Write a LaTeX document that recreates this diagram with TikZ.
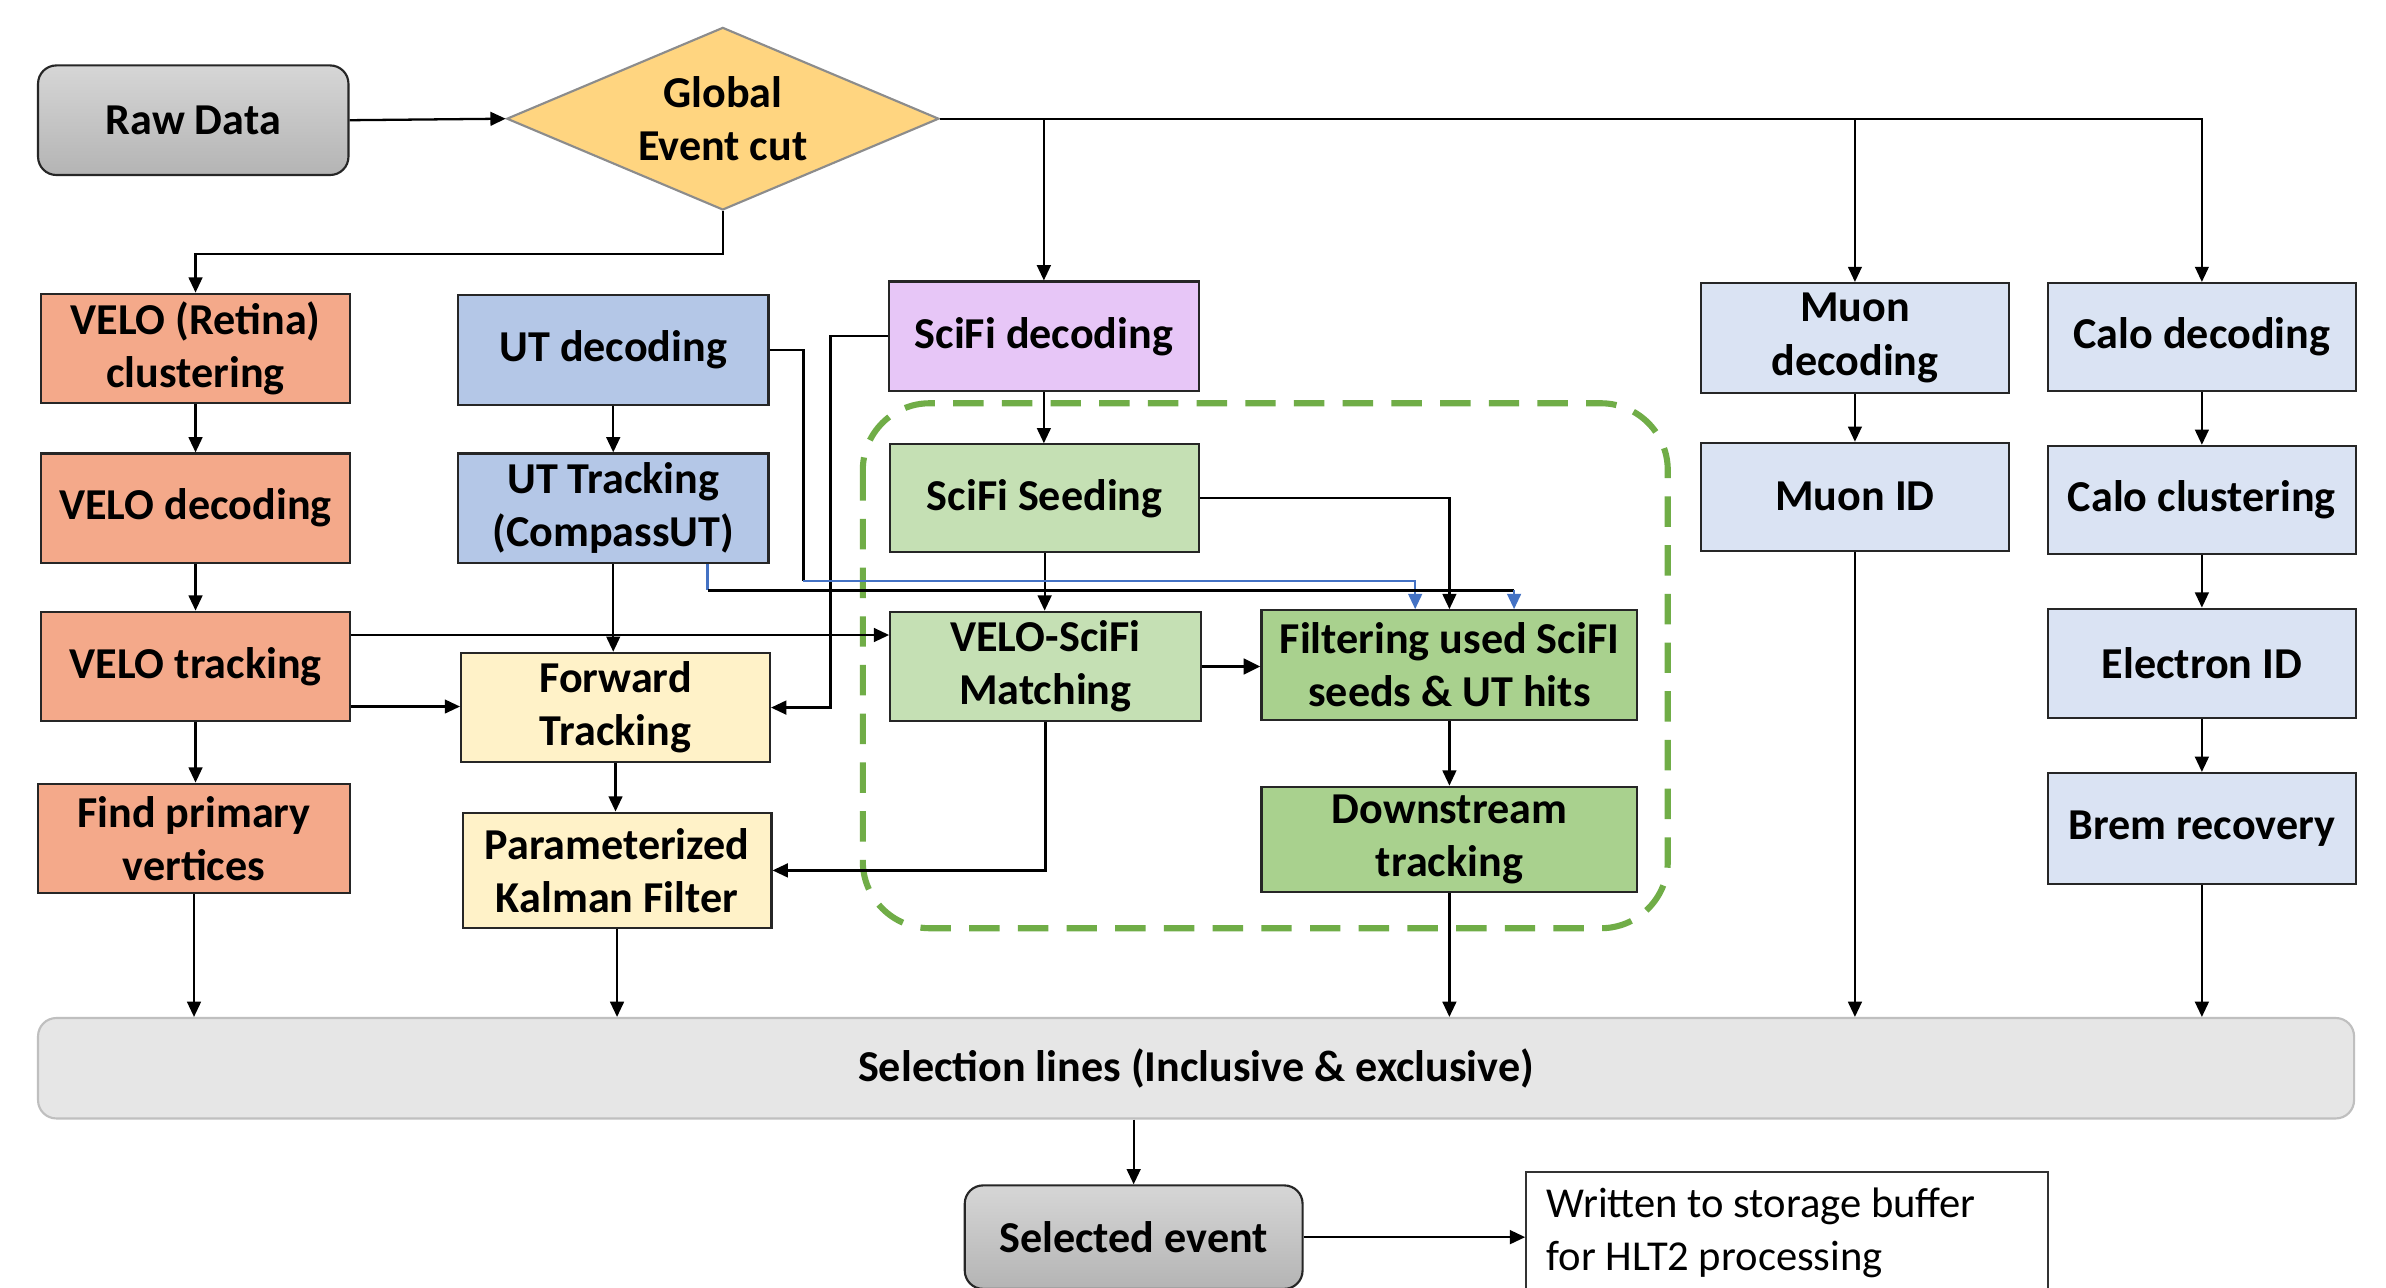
\documentclass[tikz,border=0pt]{standalone}
\usepackage{fontspec}
\setmainfont{Carlito}
\usetikzlibrary{shapes.geometric,arrows.meta,calc}
\definecolor{graytop}{HTML}{D6D6D6}
\definecolor{graybot}{HTML}{B4B4B4}
\definecolor{gold}{HTML}{FFD580}
\definecolor{velo}{HTML}{F4A98A}
\definecolor{utblue}{HTML}{B4C7E7}
\definecolor{fwdyel}{HTML}{FFF2C8}
\definecolor{scifiv}{HTML}{E7C6F7}
\definecolor{lgreen}{HTML}{C5E0B4}
\definecolor{dgreen}{HTML}{A9D18E}
\definecolor{pblue}{HTML}{DAE3F3}
\definecolor{selfill}{HTML}{E6E6E6}
\definecolor{selline}{HTML}{BFBFBF}
\definecolor{dashgreen}{HTML}{70AD47}
\definecolor{lineblue}{HTML}{4472C4}
\newcommand\mkbox[7]{\node[#6, minimum width={(#4-#2)*0.5pt}, minimum height={(#5-#3)*0.5pt}] (#1) at ({(#2+#4)/2},{(#3+#5)/2}) {#7};}
\begin{document}
\begin{tikzpicture}[x=0.5pt,y=-0.5pt,
  box/.style={draw=black!85, line width=0.7pt, inner sep=0pt, align=center,
    font=\bfseries\fontsize{14.5}{17.5}\selectfont},
  line/.style={draw=black, line width=0.75pt},
  arr/.style={line, -{Triangle[length=5pt,width=4.5pt]}},
  bline/.style={draw=lineblue, line width=0.75pt},
  barr/.style={bline, -{Triangle[length=5pt,width=4.5pt]}}]
\useasboundingbox (0,0) rectangle (1568,846);
\clip (0,0) rectangle (1568,846);
\fill[white] (0,0) rectangle (1568,846);

% dashed group
\draw[dashgreen, line width=2pt, dash pattern=on 10pt off 6pt, rounded corners=22pt]
  (567,265) rectangle (1096,610);

% nodes
\mkbox{raw}{25}{43}{229}{115}{box, rounded corners=6pt, top color=graytop, bottom color=graybot}{Raw Data}
\node[diamond, draw=black!45, fill=gold, line width=0.7pt, inner sep=0pt,
  minimum width=142pt, minimum height=60pt, aspect=2.37, align=center,
  font=\bfseries\fontsize{14.5}{17.5}\selectfont] (gec) at (475,78) {Global\\Event cut};

\mkbox{vr}{27}{193}{230}{265}{box, fill=velo}{VELO (Retina)\\clustering}
\mkbox{vd}{27}{298}{230}{370}{box, fill=velo}{VELO decoding}
\mkbox{vt}{27}{402}{230}{474}{box, fill=velo}{VELO tracking}
\mkbox{pv}{25}{515}{230}{587}{box, fill=velo}{Find primary\\vertices}

\mkbox{utd}{301}{194}{505}{266}{box, fill=utblue}{UT decoding}
\mkbox{utt}{301}{298}{505}{370}{box, fill=utblue}{UT Tracking\\(CompassUT)}
\mkbox{ft}{303}{429}{506}{501}{box, fill=fwdyel}{Forward\\Tracking}
\mkbox{pkf}{304}{534}{507}{610}{box, fill=fwdyel}{Parameterized\\Kalman Filter}

\mkbox{sd}{584}{185}{788}{257}{box, fill=scifiv}{SciFi decoding}
\mkbox{ss}{585}{292}{788}{363}{box, fill=lgreen}{SciFi Seeding}
\mkbox{vsm}{585}{402}{789}{474}{box, fill=lgreen}{VELO-SciFi\\Matching}
\mkbox{filt}{829}{401}{1076}{473}{box, fill=dgreen}{Filtering used SciFI\\seeds \& UT hits}
\mkbox{ds}{829}{517}{1076}{586}{box, fill=dgreen}{Downstream\\tracking}

\mkbox{md}{1118}{186}{1320}{258}{box, fill=pblue}{Muon\\decoding}
\mkbox{mid}{1118}{291}{1320}{362}{box, fill=pblue}{Muon ID}
\mkbox{cd}{1346}{186}{1548}{257}{box, fill=pblue}{Calo decoding}
\mkbox{cc}{1346}{293}{1548}{364}{box, fill=pblue}{Calo clustering}
\mkbox{eid}{1346}{400}{1548}{472}{box, fill=pblue}{Electron ID}
\mkbox{br}{1346}{508}{1548}{581}{box, fill=pblue}{Brem recovery}

\mkbox{sel}{25}{669}{1547}{735}{box, draw=selline, fill=selfill, rounded corners=6pt}{Selection lines (Inclusive \& exclusive)}
\mkbox{se}{634}{779}{856}{847}{box, rounded corners=6pt, top color=graytop, bottom color=graybot}{Selected event}
\mkbox{wr}{1003}{770}{1346}{880}{draw=black!80, line width=0.7pt, fill=white, inner sep=0pt}{}
\node[anchor=west, align=left, inner sep=0pt, font=\fontsize{14}{17.5}\selectfont] (wrt) at (1016,810)
  {Written to storage buffer\\for HLT2 processing};

% connectors
\draw[arr] (raw.east) -- (gec.west);
\draw[arr] (gec.east) -| (cd.north);
\draw[arr] (gec.east -| sd.north) -- (sd.north);
\draw[arr] (gec.east -| md.north) -- (md.north);
\draw[arr] (gec.south) -- ++(0,28) -| (vr.north);

\draw[arr] (vr.south) -- (vd.north);
\draw[arr] (vd.south) -- (vt.north);
\draw[arr] (vt.south) -- (vt.south |- pv.north);
\draw[arr] (pv.south) -- (pv.south |- sel.north);

\coordinate (vta) at ($(vt.north east)+(0,16)$);
\coordinate (vtb) at ($(vt.north east)+(0,63)$);
\draw[arr] (vta) -- (vta -| vsm.west);
\draw[arr] (vtb) -- (vtb -| ft.west);

\draw[arr] (utd.south) -- (utt.north);
\draw[arr] (utt.south) -- (utt.south |- ft.north);
\draw[arr] (ft.south) -- (ft.south |- pkf.north);
\draw[arr] (pkf.south) -- (pkf.south |- sel.north);

\coordinate (sdl) at ($(ft.east)+(39,0)$);
\draw[arr] (sd.west) -| (sdl) -- (ft.east);

\draw[arr] (sd.south) -- (sd.south |- ss.north);
\draw[arr] (ss.south) -- (ss.south |- vsm.north);
\draw[arr] (ss.east) -| (filt.north);
\draw[line, line width=1.3pt, -{Triangle[length=5.5pt,width=5pt]}] (vsm.east) -- (vsm.east -| filt.west);
\draw[arr] (vsm.south) |- (pkf.east);
\draw[arr] (filt.south) -- (ds.north);
\draw[arr] (ds.south) -- (ds.south |- sel.north);

% UT hits to filtering
\coordinate (b1) at (528,382);
\coordinate (b1e) at (930,382);
\draw[line] (utd.east) -| (b1);
\draw[barr] (b1) -- (b1e) -- (b1e |- filt.north);
\coordinate (b2) at (465,388);
\coordinate (b3) at (995,388);
\draw[bline] (utt.south west -| b2) -- (b2);
\draw[line] (b2) -- (b3);
\draw[barr] (b3) -- (b3 |- filt.north);

\draw[arr] (md.south) -- (mid.north);
\draw[arr] (mid.south) -- (mid.south |- sel.north);
\draw[arr] (cd.south) -- (cc.north);
\draw[arr] (cc.south) -- (eid.north);
\draw[arr] (eid.south) -- (br.north);
\draw[arr] (br.south) -- (br.south |- sel.north);

\draw[arr] (sel.south -| se.north) -- (se.north);
\draw[arr] (se.east) -- (se.east -| wr.west);
\end{tikzpicture}
\end{document}
